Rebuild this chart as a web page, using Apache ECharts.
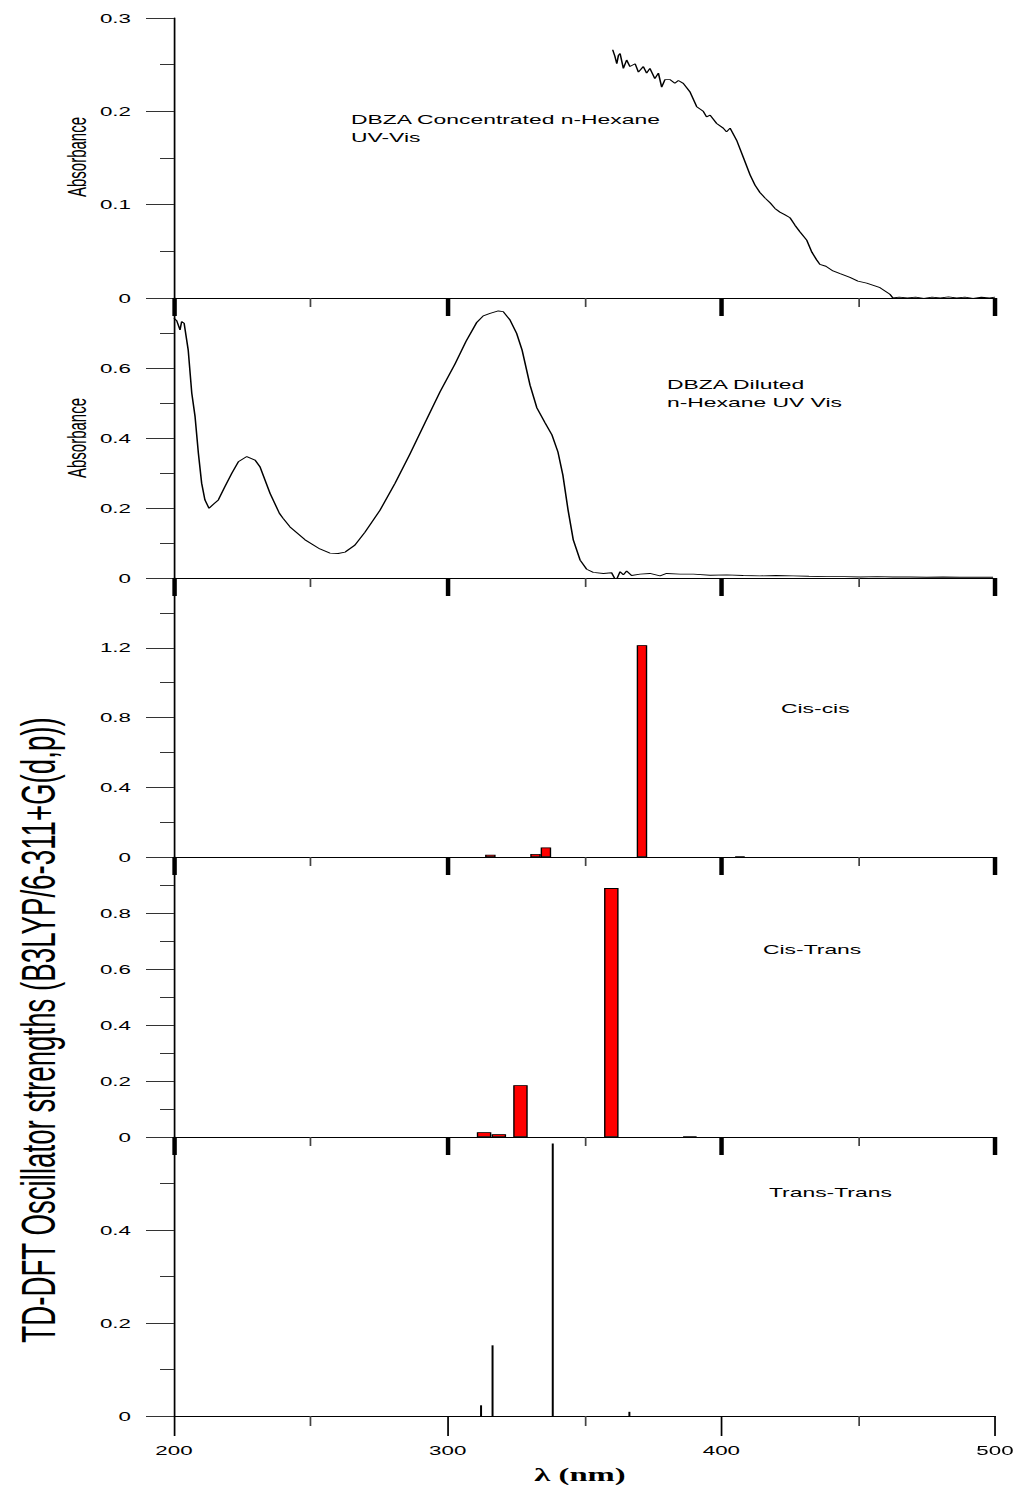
<!DOCTYPE html>
<html><head><meta charset="utf-8">
<script src="https://cdn.jsdelivr.net/npm/echarts@6/dist/echarts.min.js"></script>
<style>
html,body{margin:0;padding:0;background:#fff;overflow:hidden;}
#wrap{width:1018px;height:1489px;overflow:hidden;background:#fff;}
#chart{height:1489px;transform-origin:0 0;}
</style></head><body>
<div id="wrap"><div id="chart"></div></div>
<script>
// ---------- data ----------
const xTickLabels = [200, 300, 400, 500];

const concWl = [360.3,361.1,361.8,362.4,363.0,364.2,365.4,366.6,368.5,369.7,371.5,372.7,373.9,375.7,377.0,378.2,379.4,381.2,383.0,384.3,386.1,388.5,391.0,393.4,394.6,395.9,398.3,400.7,401.9,403.2,405.6,408.0,410.5,412.3,414.1,416.0,417.8,419.6,421.4,423.3,425.1,426.9,428.7,431.2,433.1,434.8,436.0,438.2,440.8,443.4,447.0,449.9,453.1,456.1,458.0,459.8,461.6,462.7,465,468,471,474,477,480,483,486,489,492,495,498,500];
const concAbs = [0.266,0.259,0.251,0.260,0.262,0.246,0.255,0.248,0.251,0.242,0.248,0.241,0.246,0.235,0.241,0.226,0.234,0.234,0.230,0.233,0.230,0.221,0.205,0.200,0.194,0.196,0.187,0.182,0.178,0.182,0.169,0.151,0.132,0.121,0.113,0.107,0.102,0.096,0.092,0.089,0.086,0.078,0.071,0.062,0.049,0.041,0.036,0.034,0.029,0.026,0.022,0.018,0.016,0.013,0.011,0.0075,0.004,0.000,0.001,0.000,0.001,-0.0005,0.001,0.000,0.0012,0.000,0.001,-0.0005,0.0008,0.000,0.001];

const dilWl = [200.0,201.0,202.2,202.8,203.7,205.2,206.5,207.7,208.9,210.1,211.3,212.8,214.4,216.2,218.6,221.1,223.5,226.6,229.6,231.4,235.1,238.5,239.8,242.4,247.9,253.3,257.0,260.0,262.5,266.1,269.8,275.3,280.8,286.2,291.7,297.2,302.7,306.7,310.6,313.0,315.5,318.5,320.3,322.8,325.2,327.2,330.1,332.6,335.6,338.1,340.3,342.1,344.0,345.9,348.4,350.8,353.2,356.9,359.9,361.5,363.0,364.2,365.4,367.2,370.3,373.9,377.6,380.0,384.9,389.8,395.9,402.0,408,414.1,420,426.2,432,438.5,445,450.7,457,462.7,469,475.0,481,487.2,493,499.3];
const dilAbs = [0.742,0.735,0.709,0.733,0.728,0.651,0.528,0.461,0.357,0.271,0.223,0.199,0.211,0.223,0.261,0.299,0.332,0.347,0.337,0.318,0.242,0.185,0.171,0.146,0.109,0.083,0.071,0.070,0.074,0.094,0.131,0.194,0.271,0.354,0.443,0.532,0.612,0.676,0.730,0.749,0.756,0.763,0.761,0.737,0.699,0.651,0.551,0.486,0.443,0.409,0.360,0.294,0.194,0.109,0.051,0.025,0.016,0.013,0.015,-0.008,0.018,0.009,0.020,0.007,0.011,0.013,0.006,0.013,0.011,0.011,0.008,0.009,0.007,0.006,0.007,0.006,0.005,0.004,0.004,0.003,0.004,0.003,0.003,0.002,0.003,0.002,0.002,0.002];

const cisCisWl = [315.6, 332.1, 335.9, 371.0, 406.8];
const cisCisF  = [0.013, 0.017, 0.055, 1.215, 0.003];

const cisTransWl = [313.3, 318.7, 326.6, 359.8, 388.5];
const cisTransF  = [0.017, 0.010, 0.185, 0.889, 0.002];

const transTransWl = [312.2, 316.4, 338.4, 366.4];
const transTransF  = [0.023, 0.152, 0.586, 0.009];

// ---------- layout (reference pixels; page is stretched horizontally by S) ----------
const S = 1.72;
const W = 1018 / S;
const X = px => px / S;
const FONT = "'Liberation Sans', Arial, sans-serif";
const dom = document.getElementById('chart');
dom.style.width = W + 'px';
dom.style.transform = 'scaleX(' + S + ')';

const tops = [18, 298, 578, 857, 1137];
const bots = [298, 578, 857, 1137, 1416];
const yMax = [0.3, 0.8, 1.6, 1.0, 0.6];
const yInt = [0.1, 0.2, 0.4, 0.2, 0.2];
const showTop = [true, false, false, false, false];

const zip = (a, b) => a.map((v, i) => [v, b[i]]);
const fmt = v => v === 0 ? '0' : String(+v.toFixed(2));

const grids = [], xAxes = [], yAxes = [];
for (let i = 0; i < 5; i++) {
  const last = i === 4;
  grids.push({ left: X(174), width: X(995 - 174), top: tops[i], height: bots[i] - tops[i], containLabel: false, outerBoundsMode: 'none' });
  xAxes.push({
    type: 'value', gridIndex: i, min: 200, max: 500, interval: 100,
    axisLine: { show: true, onZero: false, lineStyle: { color: '#000', width: 1 } },
    axisTick: { show: true, inside: false, length: last ? 20 : 18, lineStyle: { color: '#000', width: last ? 1 : 2.6 } },
    minorTick: { show: true, splitNumber: 2, length: last ? 10 : 9, lineStyle: { color: '#444', width: 1 } },
    splitLine: { show: false }, minorSplitLine: { show: false },
    axisLabel: { show: last, margin: 28, fontSize: 13, color: '#000', fontFamily: FONT, showMinLabel: true, showMaxLabel: true,
      formatter: v => xTickLabels.includes(v) ? String(v) : '' }
  });
  const mx = yMax[i], st = showTop[i];
  yAxes.push({
    type: 'value', gridIndex: i, min: 0, max: mx, interval: yInt[i],
    axisLine: { show: true, onZero: false, lineStyle: { color: '#000', width: 1 } },
    axisTick: { show: true, inside: false, length: X(28), lineStyle: { color: '#333', width: 1 } },
    minorTick: { show: true, splitNumber: 2, length: X(14), lineStyle: { color: '#333', width: 1 } },
    splitLine: { show: false }, minorSplitLine: { show: false },
    axisLabel: { margin: X(43), fontSize: 13, color: '#000', fontFamily: FONT, showMinLabel: true, showMaxLabel: true,
      formatter: v => (!st && Math.abs(v - mx) < 1e-9) ? '' : fmt(v) }
  });
}

const lineSeries = (idx, data) => ({
  type: 'line', xAxisIndex: idx, yAxisIndex: idx, data, showSymbol: false, symbol: 'none',
  lineStyle: { color: '#000', width: 0.9 }, itemStyle: { color: '#000' }, silent: true, z: 3
});
const barSeries = (idx, data, w, color, bw) => ({
  type: 'bar', xAxisIndex: idx, yAxisIndex: idx, data, barWidth: w, silent: true,
  itemStyle: { color: color, borderColor: '#000', borderWidth: bw }
});

const txt = (x, y, text, size, extra) => Object.assign({
  type: 'text', x: X(x), y: y, silent: true,
  style: { text, fontSize: size, fontFamily: FONT, fill: '#000', textAlign: 'left', textVerticalAlign: 'middle' }
}, extra || {});

const option = {
  animation: false,
  backgroundColor: '#fff',
  grid: grids, xAxis: xAxes, yAxis: yAxes,
  series: [
    lineSeries(0, zip(concWl, concAbs)),
    lineSeries(1, zip(dilWl, dilAbs)),
    barSeries(2, zip(cisCisWl, cisCisF), X(10.5), '#ff0000', 0.8),
    barSeries(3, zip(cisTransWl, cisTransF), X(14.5), '#ff0000', 0.8),
    barSeries(4, zip(transTransWl, transTransF), X(2), '#000', 0)
  ],
  graphic: [
    txt(351, 119, 'DBZA Concentrated n-Hexane', 13.3),
    txt(351, 137, 'UV-Vis', 13.3),
    txt(667, 384, 'DBZA Diluted', 13.3),
    txt(667, 402, 'n-Hexane UV Vis', 13.3),
    txt(781, 708, 'Cis-cis', 13.3),
    txt(763, 949, 'Cis-Trans', 13.3),
    txt(769, 1192, 'Trans-Trans', 13.3),
    { type: 'text', x: X(77), y: 157, rotation: Math.PI / 2, silent: true,
      style: { text: 'Absorbance', fontSize: 15, fontFamily: FONT, fill: '#000', textAlign: 'center', textVerticalAlign: 'middle' } },
    { type: 'text', x: X(77), y: 438, rotation: Math.PI / 2, silent: true,
      style: { text: 'Absorbance', fontSize: 15, fontFamily: FONT, fill: '#000', textAlign: 'center', textVerticalAlign: 'middle' } },
    { type: 'text', x: X(38), y: 1030, rotation: Math.PI / 2, silent: true,
      style: { text: 'TD-DFT Oscillator strengths (B3LYP/6-311+G(d,p))', fontSize: 27.7, fontFamily: FONT, fill: '#000', textAlign: 'center', textVerticalAlign: 'middle' } },
    { type: 'text', x: X(580), y: 1475, silent: true,
      style: { text: 'λ (nm)', fontSize: 19, fontWeight: 'bold', fontFamily: "'Liberation Serif', 'Times New Roman', serif", fill: '#000', textAlign: 'center', textVerticalAlign: 'middle' } }
  ]
};

const chart = echarts.init(dom, null, { renderer: 'svg', width: W, height: 1489 });
chart.setOption(option);
</script>
</body></html>
